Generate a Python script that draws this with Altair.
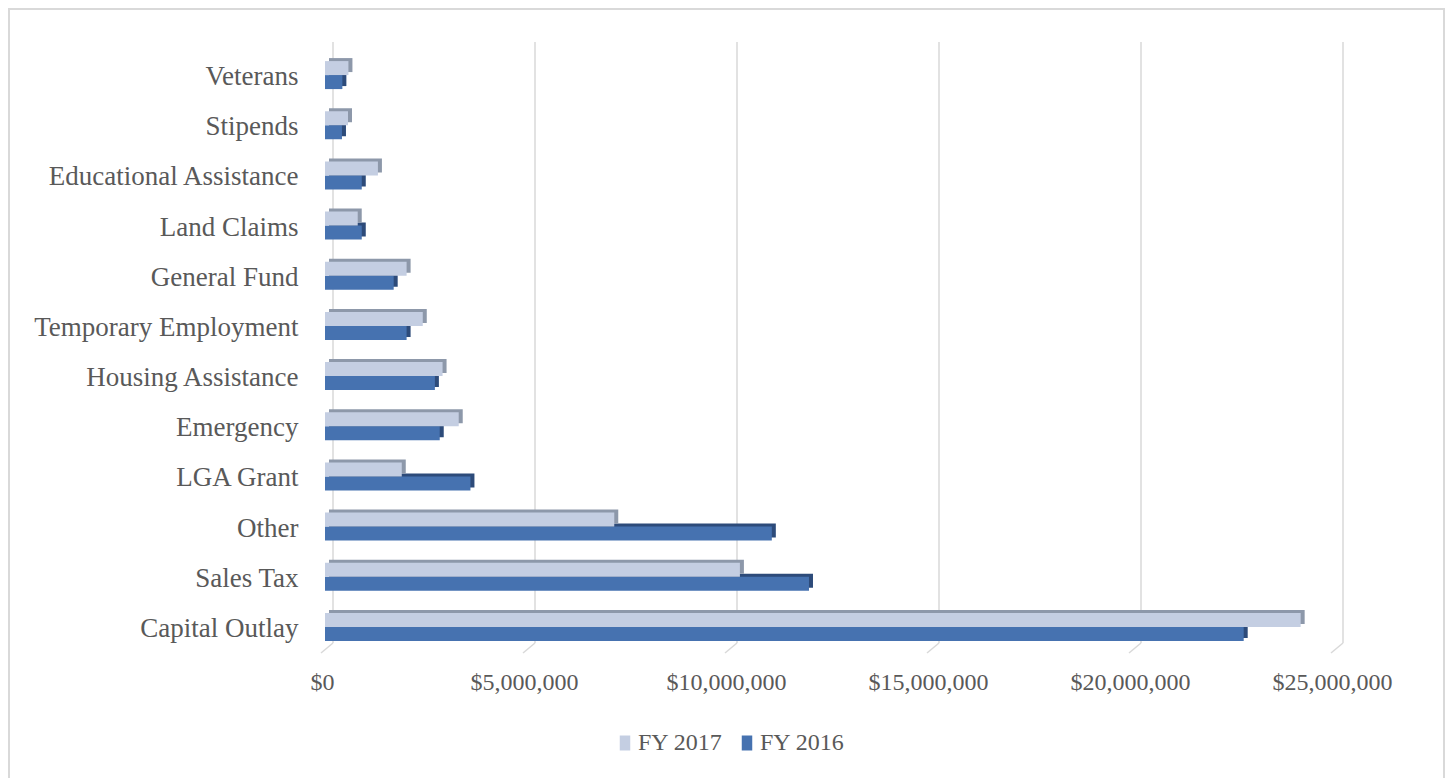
import altair as alt
import pandas as pd

categories = ["Veterans", "Stipends", "Educational Assistance", "Land Claims",
              "General Fund", "Temporary Employment", "Housing Assistance",
              "Emergency", "LGA Grant", "Other", "Sales Tax", "Capital Outlay"]
fy2017 = [580000, 570000, 1310000, 810000, 2020000, 2420000, 2910000,
          3310000, 1900000, 7160000, 10270000, 24150000]
fy2016 = [430000, 420000, 910000, 910000, 1700000, 2020000, 2720000,
          2840000, 3600000, 11060000, 11980000, 22740000]
series = ["FY 2017", "FY 2016"]
tick_values = [0, 5000000, 10000000, 15000000, 20000000, 25000000]
face_colors = ["#c4cee2", "#4672b0"]
side_colors = ["#8d98aa", "#2d4b7a"]

rows = []
for c, a, b in zip(categories, fy2017, fy2016):
    rows.append({"category": c, "series": series[0], "value": a, "zero": 0})
    rows.append({"category": c, "series": series[1], "value": b, "zero": 0})
df = pd.DataFrame(rows)
grid_df = pd.DataFrame({"tick": tick_values})
frame_df = pd.DataFrame({"k": [0]})

FONT = "Liberation Serif"
TXT = "#595959"
GRID = "#d9d9d9"
xscale = alt.Scale(domain=[0, 25000000], nice=False, zero=True)
yscale = alt.Scale(domain=categories, paddingInner=0, paddingOuter=0)
x_axis = alt.Axis(values=tick_values, format="$,.0f")


def X(field):
    return alt.X(field, scale=xscale, title=None, axis=x_axis)


def Y():
    return alt.Y("category:N", scale=yscale, sort=categories, title=None)


frame = alt.Chart(frame_df).mark_rect(filled=False, stroke=GRID, strokeWidth=2).encode(
    x=alt.value(-316), x2=alt.value(1119), y=alt.value(-41), y2=alt.value(760)
)

grid = alt.Chart(grid_df).mark_rule(color=GRID, strokeWidth=1.5, xOffset=8).encode(
    x=X("tick:Q"),
    y=alt.value(-8), y2=alt.value(593)
)
slant = alt.Chart(grid_df).mark_rule(color=GRID, strokeWidth=1.5, xOffset=8, x2Offset=-4).encode(
    x=X("tick:Q"),
    x2="tick:Q",
    y=alt.value(593), y2=alt.value(603)
)

color_enc = alt.Color(
    "series:N",
    scale=alt.Scale(domain=series, range=face_colors),
    legend=alt.Legend(
        title=None, orient="none", legendX=288, legendY=681, direction="horizontal",
        symbolType="M-0.7,-1H0.7V1H-0.7Z", symbolSize=225, symbolStrokeWidth=0,
        symbolOpacity=1, labelFont=FONT, labelFontSize=24, labelColor=TXT,
        labelOffset=1, columnPadding=12, padding=0
    ),
)


def layer_for(s, side, yoff):
    base = alt.Chart(df).transform_filter(alt.datum.series == s)
    shadow = base.mark_bar(color=side, height=14, yOffset=yoff - 3, xOffset=4, x2Offset=4).encode(
        x=X("value:Q"), x2="zero:Q", y=Y()
    )
    front = base.mark_bar(height=14, yOffset=yoff).encode(
        x=X("value:Q"), x2="zero:Q", y=Y(), color=color_enc
    )
    return shadow, front


s16, f16 = layer_for("FY 2016", side_colors[1], 7)
s17, f17 = layer_for("FY 2017", side_colors[0], -7)

chart = alt.layer(frame, grid, slant, s16, f16, s17, f17).properties(
    width=1010, height=602,
    autosize=alt.AutoSizeParams(type="none"),
    padding={"left": 317, "top": 42, "right": 110, "bottom": 126},
).configure_view(
    stroke=None
).configure_axisX(
    grid=False, domain=False, ticks=False, tickSize=0, labelFont=FONT,
    labelFontSize=24, labelColor=TXT, labelPadding=18, labelOffset=-3,
    labelFlush=False
).configure_axisY(
    grid=False, domain=False, ticks=False, tickSize=0, labelFont=FONT,
    labelFontSize=27, labelColor=TXT, labelPadding=27, labelLimit=400,
    labelOffset=2
)

chart.save("out.html", embed_options={"renderer": "svg", "actions": False})
